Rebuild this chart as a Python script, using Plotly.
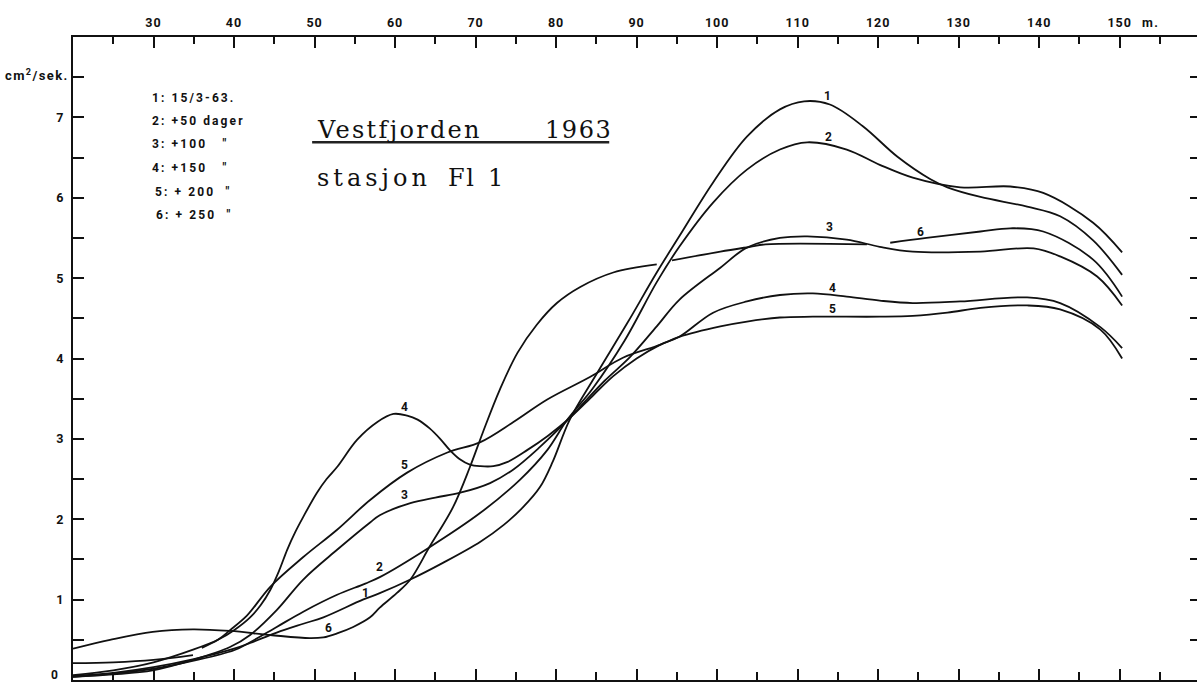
import plotly.graph_objects as go

# ---------------- data (depth in m, K in cm^2/sek) ----------------
depth_1 = [20, 25, 30, 35, 40, 42, 45.3, 48.6, 51.1, 56, 58.1, 61.9, 66, 70.6, 73.5, 75.9, 78, 79.6,
           81.7, 85.1, 88.9, 92.5, 95.3, 99.5, 103.7, 107.8, 110.8, 114, 118.1, 122.4, 126.5, 128.6,
           132.7, 138.5, 142.6, 146.7, 150.3]
k_1 = [0.05, 0.09, 0.16, 0.26, 0.39, 0.46, 0.59, 0.70, 0.78, 1.00, 1.08, 1.25, 1.46, 1.72, 1.93, 2.15,
       2.40, 2.72, 3.24, 3.82, 4.45, 5.07, 5.52, 6.19, 6.76, 7.10, 7.20, 7.16, 6.89, 6.51, 6.23, 6.13,
       6.01, 5.89, 5.77, 5.47, 5.04]

depth_2 = [20, 25, 30, 35, 40, 42, 45.3, 48.6, 52.8, 56.3, 58.1, 64.1, 70.6, 75.5, 78.9, 81.4, 84.5,
           88.5, 92.5, 95.3, 99.5, 103.7, 107.8, 111.2, 116.1, 120.2, 124.3, 130.2, 136.4, 140.5,
           146.7, 150.3]
k_2 = [0.04, 0.08, 0.14, 0.24, 0.37, 0.47, 0.66, 0.85, 1.06, 1.20, 1.28, 1.64, 2.08, 2.49, 2.86, 3.24,
       3.62, 4.22, 4.95, 5.39, 5.94, 6.35, 6.60, 6.69, 6.60, 6.41, 6.25, 6.13, 6.14, 6.06, 5.69, 5.32]

depth_3 = [20, 25, 29.9, 34.9, 39.5, 42, 45.3, 48.6, 52.8, 56.9, 58.1, 61.9, 65, 68.1, 71.8, 74.7, 78,
           81.7, 83, 86, 89.2, 92.5, 95.3, 100.4, 103.7, 107.8, 111.2, 116.1, 120.2, 124.3, 132.7,
           139.3, 142.6, 147.2, 150.3]
k_3 = [0.04, 0.07, 0.12, 0.25, 0.41, 0.56, 0.87, 1.25, 1.62, 1.96, 2.05, 2.20, 2.27, 2.33, 2.45, 2.62,
       2.90, 3.26, 3.40, 3.72, 4.02, 4.40, 4.73, 5.13, 5.38, 5.50, 5.52, 5.48, 5.39, 5.33, 5.33, 5.37,
       5.27, 5.02, 4.66]

depth_4 = [20, 25, 30, 35, 38, 40, 42, 43.3, 44.5, 45.6, 46.6, 47.6, 48.6, 50.3, 51.5, 52.8, 55.3,
           57.8, 59.8, 61.5, 62.8, 64.3, 65.6, 66.8, 68, 69.3, 70.6, 72.2, 73.9, 76.4, 79, 81.7, 84.5,
           87.1, 90, 92.9, 95.3, 99.5, 103.7, 107.8, 111.9, 116.1, 120.2, 124.3, 130.2, 138.5, 142.6,
           147.6, 150.3]
k_4 = [0.06, 0.12, 0.22, 0.38, 0.50, 0.62, 0.78, 0.93, 1.12, 1.36, 1.62, 1.84, 2.03, 2.33, 2.50, 2.65,
       2.99, 3.21, 3.31, 3.29, 3.24, 3.13, 3.00, 2.86, 2.75, 2.68, 2.66, 2.66, 2.71, 2.86, 3.04, 3.26,
       3.53, 3.78, 4.00, 4.17, 4.27, 4.57, 4.71, 4.79, 4.81, 4.77, 4.72, 4.69, 4.71, 4.76, 4.69, 4.39,
       4.13]

depth_5 = [20, 25, 30, 34.9, None, 36, 38, 39.5, 41.6, 44.5, 48.6, 52.8, 56.9, 61.5, 66.5, 70.6, 74.7,
           78.9, 84.2, 88.3, 92.9, 95.3, 100.4, 103.7, 107.8, 111.9, 120.2, 124.3, 128.6, 132.7,
           138.5, 142.6, 147.6, 150.3]
k_5 = [0.21, 0.22, 0.25, 0.31, None, 0.40, 0.50, 0.62, 0.80, 1.16, 1.53, 1.87, 2.24, 2.58, 2.83, 2.96,
       3.21, 3.49, 3.77, 4.01, 4.17, 4.27, 4.40, 4.46, 4.51, 4.52, 4.52, 4.53, 4.57, 4.63, 4.66, 4.61,
       4.36, 4.00]

depth_6 = [20, 24.6, 29.9, 34.9, 39.5, 44.5, 49.4, 51.1, 52.8, 54.8, 56.9, 58.1, 60.2, 61.9, 64.3,
           67.2, 69.3, 70.9, 73.0, 75.2, 77.6, 80.1, 83.0, 87.1, 92.5, None, 94.4, 100.4, 104.1,
           106.0, 118.6, None, 121.5, 126, 132.7, 136.4, 140.5, 146.7, 150.3]
k_6 = [0.39, 0.50, 0.60, 0.63, 0.61, 0.56, 0.52, 0.53, 0.58, 0.66, 0.78, 0.90, 1.08, 1.25, 1.66, 2.15,
       2.65, 3.08, 3.61, 4.07, 4.42, 4.69, 4.89, 5.07, 5.17, None, 5.22, 5.33, 5.39, 5.42, 5.42, None,
       5.44, 5.50, 5.58, 5.62, 5.58, 5.23, 4.77]

series = [(depth_1, k_1), (depth_2, k_2), (depth_3, k_3), (depth_4, k_4), (depth_5, k_5), (depth_6, k_6)]

# curve number labels: (text, depth, K)
curve_labels = [("1", 113.7, 7.26), ("2", 113.8, 6.76), ("3", 114.0, 5.63), ("6", 125.2, 5.57),
                ("4", 114.3, 4.88), ("5", 114.3, 4.61), ("4", 61.2, 3.40), ("5", 61.2, 2.68),
                ("3", 61.2, 2.30), ("2", 58.1, 1.41), ("1", 56.3, 1.08), ("6", 51.7, 0.65)]

legend_lines = ["1:&nbsp;15/3-63.", "2:&nbsp;+50&nbsp;dager", "3:&nbsp;+100&nbsp;&nbsp;&nbsp;\"",
                "4:&nbsp;+150&nbsp;&nbsp;&nbsp;\"", "5:&nbsp;+&nbsp;200&nbsp;&nbsp;\"",
                "6:&nbsp;+&nbsp;250&nbsp;&nbsp;\""]

top_ticks = [30, 40, 50, 60, 70, 80, 90, 100, 110, 120, 130, 140, 150]
y_ticks = [0, 0.5, 1, 1.5, 2, 2.5, 3, 3.5, 4, 4.5, 5, 5.5, 6, 6.5, 7, 7.5]
y_ticktext = ["", "", "1", "", "2", "", "3", "", "4", "", "5", "", "6", "", "7", ""]

INK = "#111111"
SANS = "Roboto, DejaVu Sans, sans-serif"
SERIF = "DejaVu Serif, Liberation Serif, serif"

fig = go.Figure()
for xs, ys in series:
    fig.add_trace(go.Scatter(x=xs, y=ys, mode="lines", connectgaps=False, hoverinfo="skip",
                             showlegend=False,
                             line=dict(color=INK, width=1.8, shape="spline", smoothing=1.0)))
# helpers so the extra axes are drawn
fig.add_trace(go.Scatter(x=[], y=[], xaxis="x2", yaxis="y", showlegend=False))
fig.add_trace(go.Scatter(x=[], y=[], xaxis="x", yaxis="y2", showlegend=False))

XR = [20, 159.6]
YR = [0, 8]


def spaced(t, ls):
    return "<span style='letter-spacing:%.1fpx'>%s</span>" % (ls, t)


ann = []
for t, xv, yv in curve_labels:
    ann.append(dict(text=t, x=xv, y=yv, xref="x", yref="y", showarrow=False,
                    font=dict(family=SANS, size=12, color=INK, weight="bold")))
leg_y = [7.24, 6.95, 6.67, 6.37, 6.07, 5.78]
leg_x = [29.6, 29.6, 29.6, 29.6, 29.9, 30.1]
for t, xv, yv in zip(legend_lines, leg_x, leg_y):
    ann.append(dict(text=spaced(t, 2.1), x=xv, y=yv,
                    xref="x", yref="y", xanchor="left", yanchor="middle", showarrow=False,
                    font=dict(family=SANS, size=12, color=INK, weight="bold")))
# title words (typewriter-like)
title_parts = [("Vestfjorden", 50.0, 6.84, 2.3), ("1963", 78.4, 6.84, 1.6),
               ("stasjon", 50.0, 6.24, 4.0), ("Fl", 66.3, 6.24, 1.6), ("1", 71.3, 6.24, 1.6)]
for t, xv, yv, ls in title_parts:
    ann.append(dict(text=spaced(t, ls), x=xv, y=yv, xref="x", yref="y",
                    xanchor="left", yanchor="middle", showarrow=False,
                    font=dict(family=SERIF, size=24, color=INK)))
ann.append(dict(text=spaced("cm<sup>2</sup>/sek.", 1.4), x=-0.002, y=7.53, xref="paper", yref="y",
                xanchor="right", yanchor="middle", showarrow=False,
                font=dict(family=SANS, size=13, color=INK, weight="bold")))
ann.append(dict(text="0", x=-0.012, y=0, xref="paper", yref="y", yshift=5,
                xanchor="right", yanchor="middle", showarrow=False,
                font=dict(family=SANS, size=12, color=INK, weight="bold")))
ann.append(dict(text=spaced("m.", 1.5), x=152.5, y=1.023, xref="x", yref="paper", xanchor="left",
                yanchor="middle", showarrow=False,
                font=dict(family=SANS, size=12.5, color=INK, weight="bold")))

fig.update_layout(
    width=1197, height=684,
    margin=dict(l=73, r=0, t=37, b=4),
    paper_bgcolor="white", plot_bgcolor="white",
    showlegend=False,
    annotations=ann,
    shapes=[dict(type="line", xref="x", yref="y", x0=49.7, x1=86.6, y0=6.69, y1=6.69,
                 line=dict(color="#222222", width=2.5))],
    xaxis=dict(range=XR, side="bottom", showline=True, linecolor=INK, linewidth=2,
               ticks="inside", tickmode="linear", tick0=0, dtick=10, ticklen=11, tickwidth=2,
               tickcolor=INK, showticklabels=False, showgrid=False, zeroline=False,
               minor=dict(ticks="inside", tickmode="linear", tick0=0, dtick=5, ticklen=8,
                          tickwidth=2, tickcolor=INK, showgrid=False)),
    xaxis2=dict(range=XR, overlaying="x", side="top", anchor="y", showline=True, linecolor=INK,
                linewidth=2, ticks="inside", tickmode="array", tickvals=top_ticks,
                ticktext=[spaced(str(v), 1.0) for v in top_ticks], ticklen=11, tickwidth=2,
                tickcolor=INK, showgrid=False, zeroline=False, ticklabelstandoff=3,
                tickfont=dict(family=SANS, size=12.5, color=INK, weight="bold"),
                minor=dict(ticks="inside", tickmode="linear", tick0=0, dtick=5, ticklen=7,
                           tickwidth=2, tickcolor=INK, showgrid=False)),
    yaxis=dict(range=YR, showline=True, linecolor=INK, linewidth=2, ticks="inside",
               tickmode="array", tickvals=y_ticks, ticktext=y_ticktext, ticklen=11, tickwidth=2,
               tickcolor=INK, showgrid=False, zeroline=False, ticklabelstandoff=5,
               tickfont=dict(family=SANS, size=12.5, color=INK, weight="bold")),
    yaxis2=dict(range=YR, overlaying="y", anchor="free", position=1.0, side="right",
                showline=False, ticks="inside", tickmode="array", tickvals=y_ticks[1:],
                ticklen=7, tickwidth=2, tickcolor=INK, showticklabels=False, showgrid=False,
                zeroline=False),
)

fig.write_html("out.html", config={"displayModeBar": False},
               post_script="document.body.style.margin='0px';")
